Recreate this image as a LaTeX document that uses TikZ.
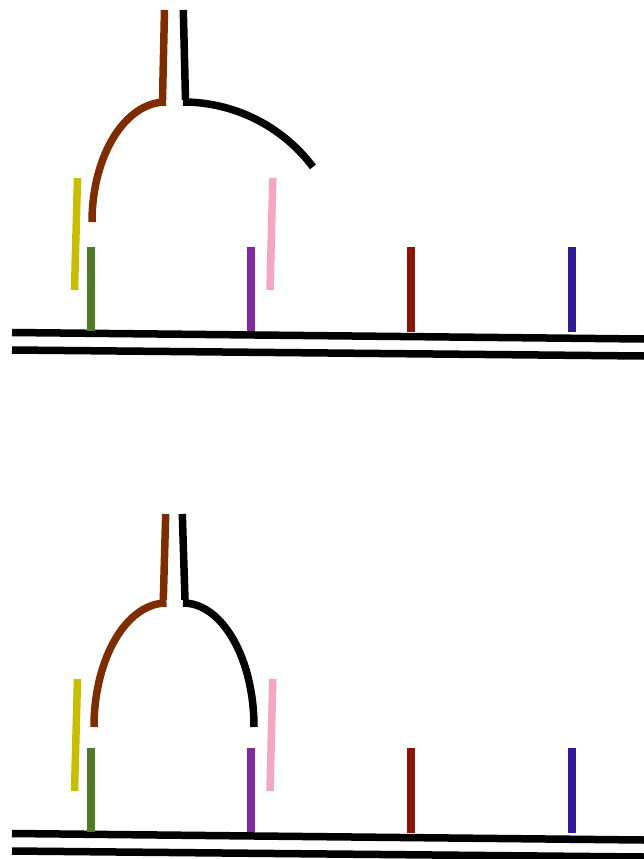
\documentclass[tikz,border=0pt]{standalone}
\usepackage{tikz}
\usetikzlibrary{arrows}
\definecolor{probegreen}{RGB}{80,122,40}
\definecolor{probeyellow}{RGB}{200,190,0}
\definecolor{probepink}{RGB}{244,166,194}
\definecolor{probepurple}{RGB}{130,40,160}
\definecolor{probered}{RGB}{137,20,5}
\definecolor{probeblue}{RGB}{50,25,150}
\definecolor{strandbrown}{RGB}{125,45,0}
\tikzstyle{strand} = [draw, line width=7.5pt, line cap=butt]
\tikzstyle{tick} = [draw, line width=7.5pt, line cap=butt]
\tikzstyle{arm} = [draw, line width=7.5pt, line cap=butt]

\begin{document}
\begin{tikzpicture}[x=1pt, y=-1pt]
        \useasboundingbox (0,0) rectangle (644,859);
        % Two panels: same duplex and probes, different arms
        \foreach \dy in {0,501} {
        \begin{scope}[yshift=-\dy pt]
        % Draw duplex
        \path [strand] (12,332.5) -- (644,339);
        \path [strand] (12,350) -- (644,356);
        % Draw probes
        \path [tick, probegreen] (91,247) -- (91,331);
        \path [tick, probepurple] (251,247) -- (251,331);
        \path [tick, probered] (411,247) -- (411,332);
        \path [tick, probeblue] (572,247) -- (572,332);
        \path [tick, probeyellow] (77.5,178) -- (74.5,290);
        \path [tick, probepink] (272.8,178) -- (270,290);
        \end{scope}
        }
        % Upper arms
        \path [arm, strandbrown] (164.5,10) -- (162.5,100);
        \path [arm, strandbrown] (166,102) arc[start angle=90, end angle=180, x radius=74pt, y radius=120pt];
        \path [arm] (183.3,10) -- (185.5,100);
        \path [arm] (183,102) arc[start angle=90, end angle=36.9, radius=162.5pt];
        % Lower arms
        \path [arm, strandbrown] (165.7,514) -- (163.3,600);
        \path [arm, strandbrown] (166.5,603) arc[start angle=90, end angle=180, x radius=72.5pt, y radius=124pt];
        \path [arm] (182.3,514) -- (185,600);
        \path [arm] (183,603) arc[start angle=90, end angle=0, x radius=71pt, y radius=124pt];
    \end{tikzpicture}
\end{document}
